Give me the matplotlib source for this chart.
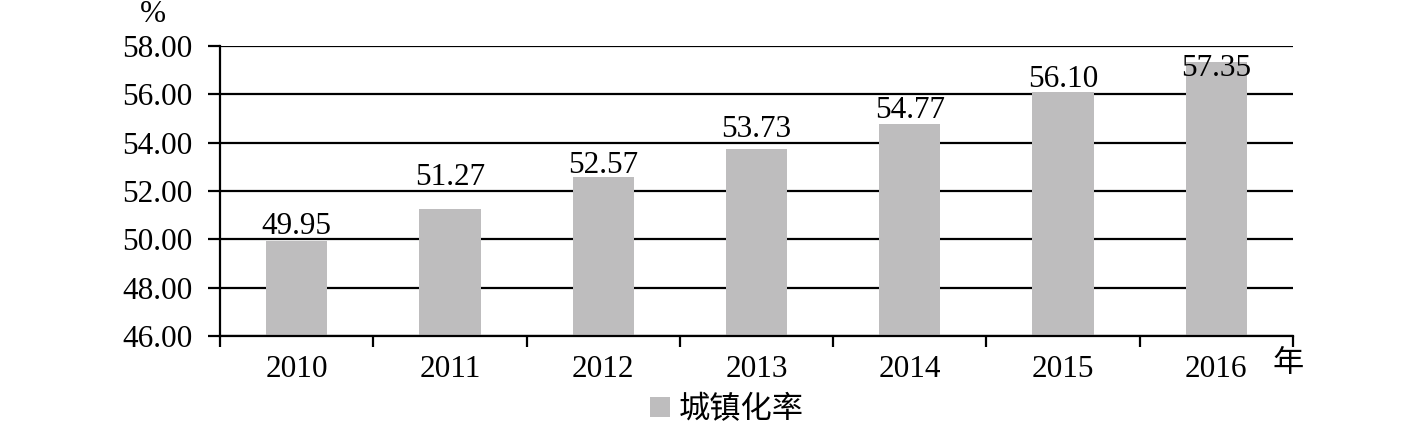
import matplotlib
matplotlib.use("Agg")
import matplotlib.pyplot as plt
from matplotlib.patches import Patch

years = ["2010", "2011", "2012", "2013", "2014", "2015", "2016"]
rates = [49.95, 51.27, 52.57, 53.73, 54.77, 56.10, 57.35]
yticks = [46.0, 48.0, 50.0, 52.0, 54.0, 56.0, 58.0]
series_name = "城镇化率"
y_unit = "%"
x_unit = "年"

# baseline heights (data units) of the value labels, as placed in the original
label_baselines = [50.22, 52.25, 52.74, 54.23, 55.02, 56.30, 56.76]

plt.rcParams['font.family'] = ['Liberation Serif', 'Noto Sans CJK SC', 'DejaVu Sans']
FS = 22.5
bar_color = '#bebdbe'

fig = plt.figure(figsize=(14.19, 4.26), dpi=100)
ax = fig.add_axes([220/1419, 1-336/426, (1293-220)/1419, (336-46)/426])

x = list(range(len(years)))
ax.bar(x, rates, width=0.4, color=bar_color, zorder=3, bottom=0)
ax.set_xlim(-0.5, len(years)-0.5)
ax.set_ylim(46, 58)
ax.set_yticks(yticks)
ax.set_yticklabels([f"{v:.2f}" for v in yticks], fontsize=FS)
ax.yaxis.grid(True, color='black', linewidth=1.6, zorder=1)
ax.set_axisbelow(True)

ax.set_xticks(x)
ax.set_xticklabels(years, fontsize=FS)
ax.tick_params(axis='x', which='major', length=0, pad=14)
ax.set_xticks([i - 0.5 for i in range(len(years)+1)], minor=True)
ax.tick_params(axis='x', which='minor', length=8, width=1.6, direction='out', color='black')
ax.tick_params(axis='y', length=9, width=1.6, direction='out', pad=11, color='black')

for s in ['top', 'right']:
    ax.spines[s].set_visible(False)
ax.spines['left'].set_linewidth(1.6)
ax.spines['bottom'].set_linewidth(1.6)
ax.spines['left'].set_zorder(4)
ax.spines['bottom'].set_zorder(4)

for xi, v, yb in zip(x, rates, label_baselines):
    ax.text(xi, yb, f"{v:.2f}", ha='center', va='baseline', fontsize=FS, zorder=5)

fig.text(153/1419, 1-15/426, y_unit, ha='center', va='center', fontsize=FS)
fig.text(1288/1419, 1-363/426, x_unit, ha='center', va='center', fontsize=FS,
         family=['Noto Sans CJK SC', 'DejaVu Sans'])

handle = Patch(facecolor=bar_color, edgecolor='none')
fig.legend([handle], [series_name], loc='center', bbox_to_anchor=(727/1419, 1-409/426),
           frameon=False, handlelength=0.62, handleheight=0.62,
           handletextpad=0.3, prop={'family': ['Noto Sans CJK SC', 'DejaVu Sans'], 'size': FS})

fig.savefig("out.png", dpi=100)
